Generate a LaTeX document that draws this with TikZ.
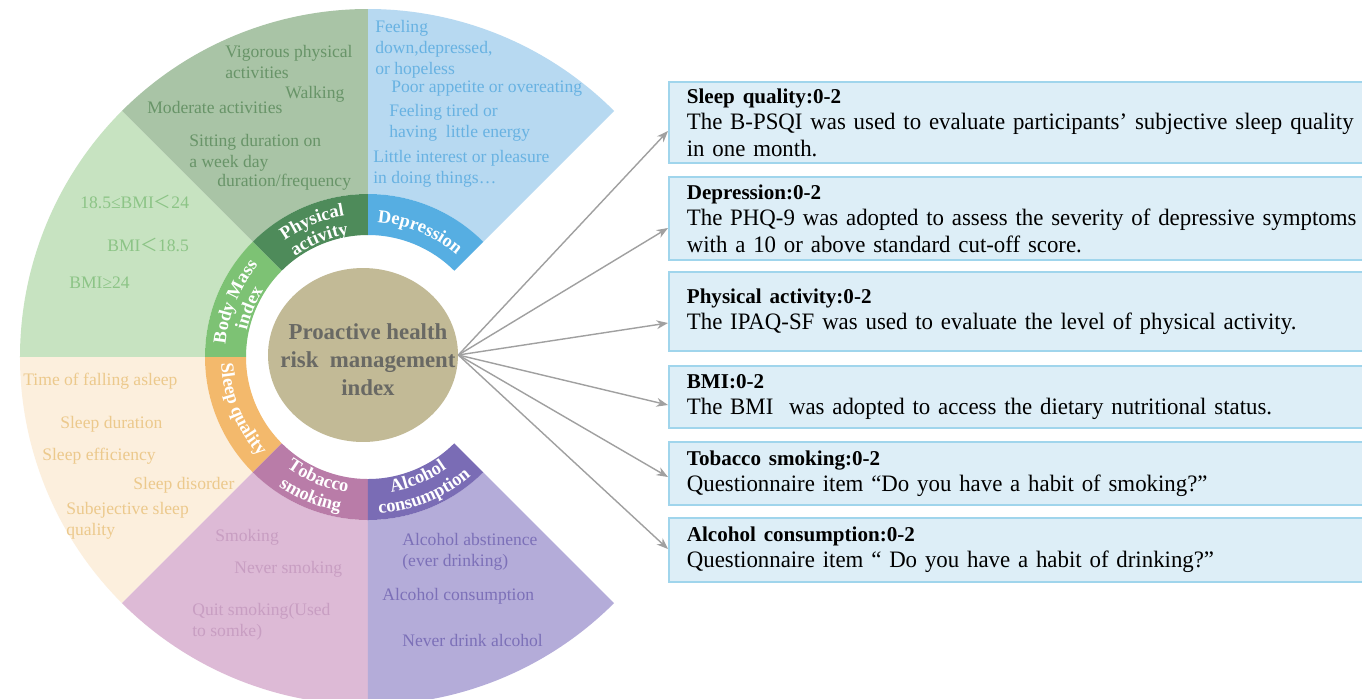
\documentclass[tikz,border=0pt]{standalone}
\usepackage{fontspec}
\setmainfont{Liberation Serif}
\newfontfamily\cjkfont{Noto Sans CJK SC}
\newfontfamily\boxfont{Liberation Serif}[FakeStretch=0.97]
\usepackage{tikz}
\usetikzlibrary{shapes,arrows,arrows.meta,positioning,calc,decorations.text}

\definecolor{paOuter}{RGB}{169,196,166}
\definecolor{paBand}{RGB}{78,139,90}
\definecolor{paText}{RGB}{104,148,104}
\definecolor{dpOuter}{RGB}{183,217,241}
\definecolor{dpBand}{RGB}{86,174,226}
\definecolor{dpText}{RGB}{104,178,226}
\definecolor{bmOuter}{RGB}{199,227,193}
\definecolor{bmBand}{RGB}{125,194,116}
\definecolor{bmText}{RGB}{140,196,134}
\definecolor{slOuter}{RGB}{252,239,221}
\definecolor{slBand}{RGB}{243,185,108}
\definecolor{slText}{RGB}{236,201,140}
\definecolor{tbOuter}{RGB}{221,186,214}
\definecolor{tbBand}{RGB}{185,124,168}
\definecolor{tbText}{RGB}{200,158,194}
\definecolor{alOuter}{RGB}{180,172,217}
\definecolor{alBand}{RGB}{122,108,181}
\definecolor{alText}{RGB}{124,112,184}
\definecolor{coreFill}{RGB}{194,186,150}
\definecolor{coreText}{RGB}{105,105,100}
\definecolor{boxFill}{RGB}{221,238,247}
\definecolor{boxLine}{RGB}{160,213,236}
\definecolor{arrowGray}{RGB}{160,160,160}

\newcommand\ringfont{\fontsize{10.5}{10.5}\selectfont\bfseries\color{white}}
\newcommand\fwless{{\cjkfont ＜}}
\newcommand\boxhead[1]{{\rmfamily\fontsize{12}{15}\selectfont\bfseries #1}}

\begin{document}
\begin{tikzpicture}[x=0.02cm, y=0.02cm,
    itemtext/.style={anchor=west, inner sep=0pt, align=left, font=\fontsize{10}{12}\selectfont},
    ringlabel/.style={decorate, decoration={text along path, text={#1}, text align=center}},
    infobox/.style={draw=boxLine, fill=boxFill, line width=1pt, anchor=west, inner xsep=0.36cm, inner ysep=0pt, text width=14cm, align=left, font=\boxfont\fontsize{13.4}{15}\selectfont},
    arrow/.style={->, >={Stealth[length=6.5pt, width=5pt]}, draw=arrowGray, line width=0.8pt}
]
    \useasboundingbox (-368,-341) rectangle (994,357);
    \fill[white] (-368,-341) rectangle (994,357);

    % Outer sectors and label ring
    \foreach \a/\o/\b in {45/dpOuter/dpBand, 90/paOuter/paBand, 135/bmOuter/bmBand, 180/slOuter/slBand, 225/tbOuter/tbBand, 270/alOuter/alBand}{
        \fill[\o] (\a:163) -- (\a:348) arc[start angle=\a, delta angle=45, radius=348] -- ({\a+45}:163) arc[start angle=\a+45, delta angle=-45, radius=163] -- cycle;
        \fill[\b] (\a:122) -- (\a:163) arc[start angle=\a, delta angle=45, radius=163] -- ({\a+45}:122) arc[start angle=\a+45, delta angle=-45, radius=122] -- cycle;
    }

    % Ring labels
    \path[ringlabel={|\ringfont|Depression}] (90:135) arc[start angle=90, end angle=45, radius=135];
    \path[ringlabel={|\ringfont|Physical}] (135:143) arc[start angle=135, end angle=90, radius=143];
    \path[ringlabel={|\ringfont|activity}] (135:124) arc[start angle=135, end angle=90, radius=124];
    \path[ringlabel={|\ringfont|Body Mass}] (180:143) arc[start angle=180, end angle=135, radius=143];
    \path[ringlabel={|\ringfont|index}] (180:124) arc[start angle=180, end angle=135, radius=124];
    \path[ringlabel={|\ringfont|Sleep quality}] (180:147) arc[start angle=180, end angle=225, radius=147];
    \path[ringlabel={|\ringfont|Tobacco}] (225:137) arc[start angle=225, end angle=270, radius=137];
    \path[ringlabel={|\ringfont|smoking}] (225:157) arc[start angle=225, end angle=270, radius=157];
    \path[ringlabel={|\ringfont|Alcohol}] (270:137) arc[start angle=270, end angle=315, radius=137];
    \path[ringlabel={|\ringfont|consumption}] (270:157) arc[start angle=270, end angle=315, radius=157];

    % Centre
    \node[ellipse, fill=coreFill, minimum width=3.8cm, minimum height=3.48cm, inner sep=0pt] (core) at (-5,2) {};
    \node[align=center, text=coreText, font=\fontsize{13}{15.9}\selectfont\bfseries] (coretitle) at (0,-3) {Proactive health\\risk\ \ management\\index};

    % Physical activity items
    \node[itemtext, text=paText] (pa1) at (-143,295) {Vigorous physical\\activities};
    \node[itemtext, text=paText] (pa2) at (-83,263) {Walking};
    \node[itemtext, text=paText] (pa3) at (-221,250) {Moderate activities};
    \node[itemtext, text=paText] (pa4) at (-179,204.5) {Sitting duration on\\a week day};
    \node[itemtext, text=paText] (pa5) at (-151,175) {duration/frequency};

    % Depression items
    \node[itemtext, text=dpText] (dp1) at (7,308) {Feeling\\down,depressed,\\or hopeless};
    \node[itemtext, text=dpText] (dp2) at (23,268) {Poor appetite or overeating};
    \node[itemtext, text=dpText] (dp3) at (21,234.5) {Feeling tired or\\having\ \ little energy};
    \node[itemtext, text=dpText] (dp4) at (5,188.5) {Little interest or pleasure\\in doing things…};

    % BMI items
    \node[itemtext, text=bmText] (bm1) at (-288,155) {18.5≤BMI\fwless24};
    \node[itemtext, text=bmText] (bm2) at (-261,112) {BMI\fwless18.5};
    \node[itemtext, text=bmText] (bm3) at (-299,74) {BMI≥24};

    % Sleep items
    \node[itemtext, text=slText] (sl1) at (-345,-24) {Time of falling asleep};
    \node[itemtext, text=slText] (sl2) at (-308,-67) {Sleep duration};
    \node[itemtext, text=slText] (sl3) at (-326,-99) {Sleep efficiency};
    \node[itemtext, text=slText] (sl4) at (-235,-128) {Sleep disorder};
    \node[itemtext, text=slText] (sl5) at (-302,-163.5) {Subejective sleep\\quality};

    % Tobacco items
    \node[itemtext, text=tbText] (tb1) at (-153,-180) {Smoking};
    \node[itemtext, text=tbText] (tb2) at (-134,-212) {Never smoking};
    \node[itemtext, text=tbText] (tb3) at (-176,-265) {Quit smoking(Used\\to somke)};

    % Alcohol items
    \node[itemtext, text=alText] (al1) at (34,-194.5) {Alcohol abstinence\\(ever drinking)};
    \node[itemtext, text=alText] (al2) at (14,-239) {Alcohol consumption};
    \node[itemtext, text=alText] (al3) at (34,-283) {Never drink alcohol};

    % Score boxes
    \node[infobox, minimum height=1.62cm] (sleep) at (300,234.5) {\boxhead{Sleep quality:0-2}\\The B-PSQI was used to evaluate participants’ subjective sleep quality\\in one month.};
    \node[infobox, minimum height=1.66cm] (depr) at (300,138.5) {\boxhead{Depression:0-2}\\The PHQ-9 was adopted to assess the severity of depressive symptoms\\with a 10 or above standard cut-off score.};
    \node[infobox, minimum height=1.58cm] (phys) at (300,45.5) {\boxhead{Physical activity:0-2}\\The IPAQ-SF was used to evaluate the level of physical activity.};
    \node[infobox, minimum height=1.24cm] (bmi) at (300,-40) {\boxhead{BMI:0-2}\\The BMI\ \ was adopted to access the dietary nutritional status.};
    \node[infobox, minimum height=1.26cm] (smoke) at (300,-116.5) {\boxhead{Tobacco smoking:0-2}\\Questionnaire item “Do you have a habit of smoking?”};
    \node[infobox, minimum height=1.28cm] (drink) at (300,-193) {\boxhead{Alcohol consumption:0-2}\\Questionnaire item “ Do you have a habit of drinking?”};

    % Arrows
    \draw[arrow] (core.east) -- ([yshift=-0.17cm]sleep.west);
    \draw[arrow] (core.east) -- ([yshift=-0.19cm]depr.west);
    \draw[arrow] (core.east) -- ([yshift=-0.23cm]phys.west);
    \draw[arrow] (core.east) -- ([yshift=-0.16cm]bmi.west);
    \draw[arrow] (core.east) -- ([yshift=-0.07cm]smoke.west);
    \draw[arrow] (core.east) -- ([yshift=0.02cm]drink.west);
\end{tikzpicture}
\end{document}
